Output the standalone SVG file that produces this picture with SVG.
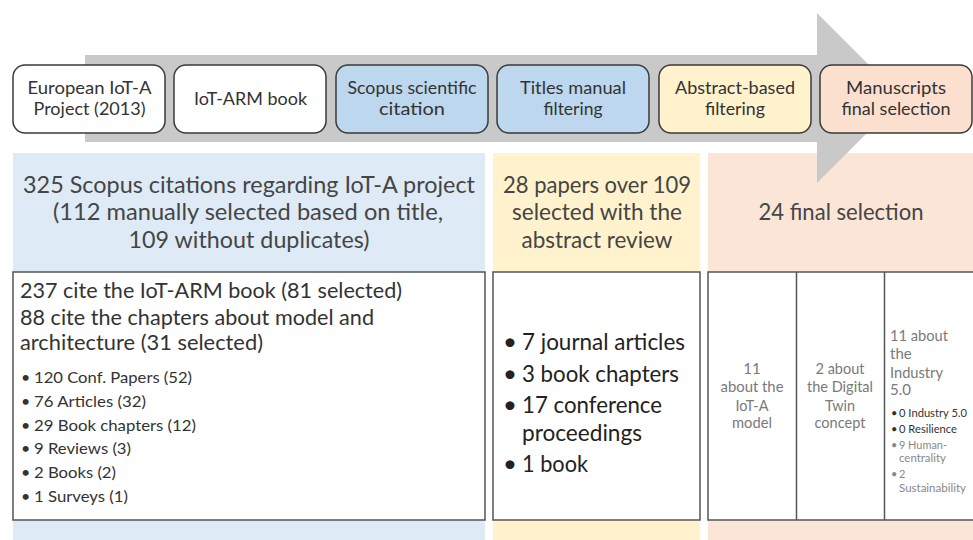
<svg xmlns="http://www.w3.org/2000/svg" width="973" height="540" viewBox="0 0 973 540">
<style>
text{font-family:Lato,"Open Sans","Liberation Sans",sans-serif;}
.step{stroke:#3a3a3a;stroke-width:1.5}
.st{font-size:17.5px;fill:#333;text-anchor:middle}
.hd{font-size:24px;fill:#454545;text-anchor:middle}
.box{fill:#fff;stroke:#555;stroke-width:1.5}
.bt{font-size:22px;fill:#333}
.bl{font-size:16px;fill:#333}
.yb{font-size:24px;fill:#222}
.sc{font-size:15px;fill:#7a7a7a;text-anchor:middle}
.c3{font-size:15px;fill:#7a7a7a}
.sm{font-size:11px}
.dk{fill:#333}
.gy{fill:#888}
</style>
<g id="panels">
<rect id="panel-scopus" x="13" y="153" width="472" height="387" fill="#DEEBF7"/>
<rect id="panel-abstract" x="493" y="153" width="207" height="387" fill="#FFF2CC"/>
<rect id="panel-final" x="708" y="153" width="265" height="387" fill="#FBE5D6"/>
</g>
<g id="connectors">
<polygon points="85,55 817,55 817,13 902,98 817,183 817,142 85,142" fill="#C9C9C9"/>
</g>
<g id="step-european">
<rect class="step" x="13" y="65" width="152" height="68" rx="12" fill="#fff"/>
<text class="st" x="89.5" y="94" textLength="124" lengthAdjust="spacingAndGlyphs">European IoT-A</text>
<text class="st" x="89.5" y="115" textLength="112" lengthAdjust="spacingAndGlyphs">Project (2013)</text>
</g>
<g id="step-book">
<rect class="step" x="174" y="65" width="152" height="68" rx="12" fill="#fff"/>
<text class="st" x="250.5" y="105" textLength="113" lengthAdjust="spacingAndGlyphs">IoT-ARM book</text>
</g>
<g id="step-scopus">
<rect class="step" x="336" y="65" width="152" height="68" rx="12" fill="#BDD7EE"/>
<text class="st" x="412" y="94" textLength="129" lengthAdjust="spacingAndGlyphs">Scopus scientific</text>
<text class="st" x="412" y="115" textLength="66" lengthAdjust="spacingAndGlyphs">citation</text>
</g>
<g id="step-titles">
<rect class="step" x="497" y="65" width="152" height="68" rx="12" fill="#BDD7EE"/>
<text class="st" x="573" y="94" textLength="106" lengthAdjust="spacingAndGlyphs">Titles manual</text>
<text class="st" x="573" y="115" textLength="59" lengthAdjust="spacingAndGlyphs">filtering</text>
</g>
<g id="step-abstract">
<rect class="step" x="659" y="65" width="152" height="68" rx="12" fill="#FFF2CC"/>
<text class="st" x="735" y="94" textLength="120" lengthAdjust="spacingAndGlyphs">Abstract-based</text>
<text class="st" x="735" y="115" textLength="60" lengthAdjust="spacingAndGlyphs">filtering</text>
</g>
<g id="step-final">
<rect class="step" x="820" y="65" width="152" height="68" rx="12" fill="#FBE0CF"/>
<text class="st" x="896" y="94" textLength="100" lengthAdjust="spacingAndGlyphs">Manuscripts</text>
<text class="st" x="896" y="115" textLength="109" lengthAdjust="spacingAndGlyphs">final selection</text>
</g>
<g id="header-scopus">
<text class="hd" x="249" y="193" textLength="452" lengthAdjust="spacingAndGlyphs">325 Scopus citations regarding IoT-A project</text>
<text class="hd" x="248" y="220" textLength="390" lengthAdjust="spacingAndGlyphs">(112 manually selected based on title,</text>
<text class="hd" x="249" y="248" textLength="241" lengthAdjust="spacingAndGlyphs">109 without duplicates)</text>
</g>
<g id="header-abstract">
<text class="hd" x="597" y="193" textLength="188" lengthAdjust="spacingAndGlyphs">28 papers over 109</text>
<text class="hd" x="597" y="220" textLength="170" lengthAdjust="spacingAndGlyphs">selected with the</text>
<text class="hd" x="597" y="248" textLength="151" lengthAdjust="spacingAndGlyphs">abstract review</text>
</g>
<g id="header-final">
<text class="hd" x="841" y="220" textLength="165" lengthAdjust="spacingAndGlyphs">24 final selection</text>
</g>
<g id="box-scopus">
<rect class="box" x="13" y="272" width="472" height="248"/>
<text class="bt" x="20" y="298" textLength="382" lengthAdjust="spacingAndGlyphs">237 cite the IoT-ARM book (81 selected)</text>
<text class="bt" x="20" y="325" textLength="354" lengthAdjust="spacingAndGlyphs">88 cite the chapters about model and</text>
<text class="bt" x="20" y="350" textLength="243" lengthAdjust="spacingAndGlyphs">architecture (31 selected)</text>
<g class="bl">
<text x="21" y="383">•</text><text x="34" y="383" textLength="158" lengthAdjust="spacingAndGlyphs">120 Conf. Papers (52)</text>
<text x="21" y="407">•</text><text x="34" y="407" textLength="112" lengthAdjust="spacingAndGlyphs">76 Articles (32)</text>
<text x="21" y="431">•</text><text x="34" y="431" textLength="162" lengthAdjust="spacingAndGlyphs">29 Book chapters (12)</text>
<text x="21" y="454">•</text><text x="34" y="454" textLength="97" lengthAdjust="spacingAndGlyphs">9 Reviews (3)</text>
<text x="21" y="478">•</text><text x="34" y="478" textLength="82" lengthAdjust="spacingAndGlyphs">2 Books (2)</text>
<text x="21" y="502">•</text><text x="34" y="502" textLength="94" lengthAdjust="spacingAndGlyphs">1 Surveys (1)</text>
</g>
</g>
<g id="box-abstract">
<rect class="box" x="493" y="272" width="207" height="248"/>
<g class="yb">
<text x="503" y="350">•</text><text x="522" y="350" textLength="163" lengthAdjust="spacingAndGlyphs">7 journal articles</text>
<text x="503" y="382">•</text><text x="522" y="382" textLength="157" lengthAdjust="spacingAndGlyphs">3 book chapters</text>
<text x="503" y="413">•</text><text x="522" y="413" textLength="140" lengthAdjust="spacingAndGlyphs">17 conference</text>
<text x="522" y="441" textLength="120" lengthAdjust="spacingAndGlyphs">proceedings</text>
<text x="503" y="472">•</text><text x="522" y="472" textLength="66" lengthAdjust="spacingAndGlyphs">1 book</text>
</g>
</g>
<g id="box-final">
<rect class="box" x="708" y="272" width="266" height="248"/>
<line x1="796.5" y1="272" x2="796.5" y2="520" stroke="#555" stroke-width="1.5"/>
<line x1="884.5" y1="272" x2="884.5" y2="520" stroke="#555" stroke-width="1.5"/>
</g>
<g id="col-iota">
<text class="sc" x="752" y="374">11</text>
<text class="sc" x="752" y="392" textLength="63" lengthAdjust="spacingAndGlyphs">about the</text>
<text class="sc" x="752" y="411" textLength="33" lengthAdjust="spacingAndGlyphs">IoT-A</text>
<text class="sc" x="752" y="428" textLength="40" lengthAdjust="spacingAndGlyphs">model</text>
</g>
<g id="col-dt">
<text class="sc" x="840" y="374" textLength="49" lengthAdjust="spacingAndGlyphs">2 about</text>
<text class="sc" x="840" y="392" textLength="66" lengthAdjust="spacingAndGlyphs">the Digital</text>
<text class="sc" x="840" y="411" textLength="30" lengthAdjust="spacingAndGlyphs">Twin</text>
<text class="sc" x="840" y="428" textLength="51" lengthAdjust="spacingAndGlyphs">concept</text>
</g>
<g id="col-industry">
<text class="c3" x="890" y="341" textLength="58" lengthAdjust="spacingAndGlyphs">11 about</text>
<text class="c3" x="890" y="359">the</text>
<text class="c3" x="890" y="378" textLength="53" lengthAdjust="spacingAndGlyphs">Industry</text>
<text class="c3" x="890" y="395">5.0</text>
<g class="sm">
<text class="dk" x="891" y="417">•</text><text class="dk" x="899" y="417" textLength="68" lengthAdjust="spacingAndGlyphs">0 Industry 5.0</text>
<text class="dk" x="891" y="433">•</text><text class="dk" x="899" y="433" textLength="58" lengthAdjust="spacingAndGlyphs">0 Resilience</text>
<text class="gy" x="891" y="449">•</text><text class="gy" x="899" y="449" textLength="48" lengthAdjust="spacingAndGlyphs">9 Human-</text>
<text class="gy" x="899" y="462" textLength="47" lengthAdjust="spacingAndGlyphs">centrality</text>
<text class="gy" x="891" y="478">•</text><text class="gy" x="899" y="478">2</text>
<text class="gy" x="899" y="492" textLength="67" lengthAdjust="spacingAndGlyphs">Sustainability</text>
</g>
</g>
</svg>
